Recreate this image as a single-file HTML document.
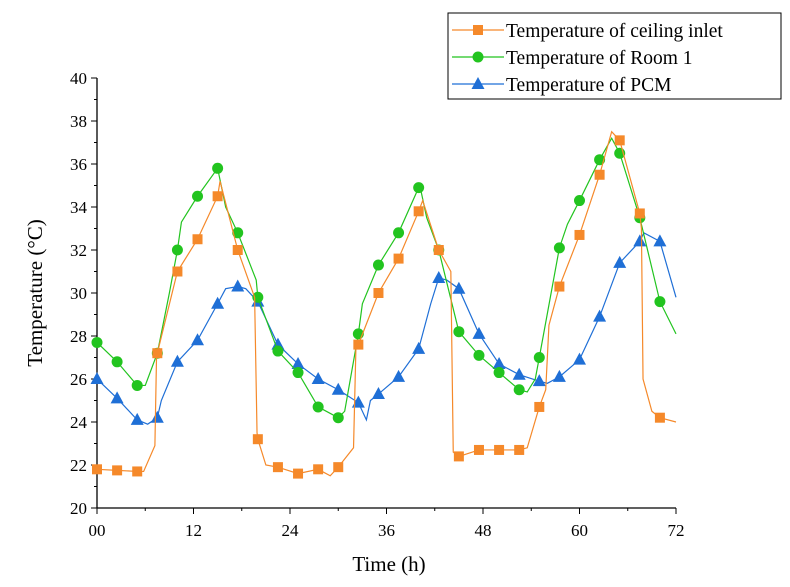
<!DOCTYPE html>
<html><head><meta charset="utf-8"><style>
body{margin:0;background:#fff;}
svg{display:block;font-family:"Liberation Serif",serif;}
</style></head><body>
<svg id="chart" width="790" height="587"></svg>
<script>
const xTicks=[0,12,24,36,48,60,72];
const xTickLabels=["00","12","24","36","48","60","72"];
const yTicks=[20,22,24,26,28,30,32,34,36,38,40];
const markerTimes=[0,2.5,5,7.5,10,12.5,15,17.5,20,22.5,25,27.5,30,32.5,35,37.5,40,42.5,45,47.5,50,52.5,55,57.5,60,62.5,65,67.5,70];
const inletMarkers=[21.8,21.75,21.7,27.2,31,32.5,34.5,32,23.2,21.9,21.6,21.8,21.9,27.6,30,31.6,33.8,32,22.4,22.7,22.7,22.7,24.7,30.3,32.7,35.5,37.1,33.7,24.2];
const roomMarkers=[27.7,26.8,25.7,27.2,32,34.5,35.8,32.8,29.8,27.3,26.3,24.7,24.2,28.1,31.3,32.8,34.9,32,28.2,27.1,26.3,25.5,27,32.1,34.3,36.2,36.5,33.5,29.6];
const pcmMarkers=[26,25.1,24.1,24.2,26.8,27.8,29.5,30.3,29.6,27.6,26.7,26,25.5,24.9,25.3,26.1,27.4,30.7,30.2,28.1,26.7,26.2,25.9,26.1,26.9,28.9,31.4,32.4,32.4];
const inletExtraT=[5.8,7.2,7.4,15.3,19.6,19.9,21,29,31.9,32.2,40.5,44,44.3,53.5,55.8,56.2,64,67.7,67.9,69,72];
const inletExtraV=[21.7,22.9,27.0,35.2,29.8,23.5,22,21.5,22.8,27.5,34.3,31,22.6,22.8,25.5,28.5,37.5,33,26,24.5,24];
const roomExtraT=[6,9,10.5,16,19.8,30.8,33,40.2,41,53.5,54.5,58.5,64,72];
const roomExtraV=[25.7,30,33.3,34,30.6,24.5,29.5,34.9,33.5,25.4,26,33.2,37.2,28.1];
const pcmExtraT=[6.3,8,16,18.5,33.5,34,41.5,43.5,56,68,72];
const pcmExtraV=[23.9,25,30.2,30.2,24.1,25,29.5,30.6,25.8,32.8,29.8];

const X0=97,X1=676,Y0=508,Y1=78;
const sx=t=>X0+(t-0)/72*(X1-X0);
const sy=v=>Y0-(v-20)/20*(Y0-Y1);
const svg=document.getElementById('chart');
const NS='http://www.w3.org/2000/svg';
function mk(tag,attrs,parent){const e=document.createElementNS(NS,tag);for(const k in attrs)e.setAttribute(k,attrs[k]);(parent||svg).appendChild(e);return e;}

// axes
let ax=mk('line',{x1:X0,y1:Y0,x2:X1,y2:Y0,stroke:'#000','stroke-width':1.3});


let ay=mk('line',{x1:X0,y1:Y0,x2:X0,y2:Y1,stroke:'#000','stroke-width':1.3});


for(let v=20;v<=40;v+=1){const maj=(v%2===0);mk('line',{x1:X0,y1:sy(v),x2:X0-(maj?6:3),y2:sy(v),stroke:'#000','stroke-width':1});}
for(let t=0;t<=72;t+=6){const maj=(t%12===0);mk('line',{x1:sx(t),y1:Y0,x2:sx(t),y2:Y0+(maj?6:3),stroke:'#000','stroke-width':1});}
yTicks.forEach(v=>{const t=mk('text',{x:X0-10,y:sy(v)+6,'text-anchor':'end','font-size':17});t.textContent=v;

});
xTicks.forEach((v,i)=>{const t=mk('text',{x:sx(v),y:Y0+28,'text-anchor':'middle','font-size':17});t.textContent=xTickLabels[i];

});
let xt=mk('text',{x:389,y:571,'text-anchor':'middle','font-size':21});xt.textContent='Time (h)';


let yt=mk('text',{x:0,y:0,'text-anchor':'middle','font-size':21,transform:'translate(42,293) rotate(-90)'});yt.textContent='Temperature (°C)';



function series(mT,mV,eT,eV,color,shape,name){
  const pts=mT.map((t,i)=>[t,mV[i]]).concat(eT.map((t,i)=>[t,eV[i]])).sort((a,b)=>a[0]-b[0]);
  const g=mk('g',{});
  
  
  const p=mk('polyline',{points:pts.map(p=>sx(p[0])+','+sy(p[1])).join(' '),fill:'none',stroke:color,'stroke-width':1.2},g);
  
  
  mT.forEach((t,i)=>{drawMarker(g,sx(t),sy(mV[i]),color,shape,name);});
}
function drawMarker(g,x,y,color,shape,name){
  let m;
  if(shape==='square')m=mk('rect',{x:x-5,y:y-5,width:10,height:10,fill:color},g);
  else if(shape==='circle')m=mk('circle',{cx:x,cy:y,r:5.5,fill:color},g);
  else m=mk('polygon',{points:`${x},${y-7} ${x-6.5},${y+5} ${x+6.5},${y+5}`,fill:color},g);
  
  
}
series(markerTimes,pcmMarkers,pcmExtraT,pcmExtraV,'#1f6fd6','tri','pcm-series');
series(markerTimes,roomMarkers,roomExtraT,roomExtraV,'#22c41f','circle','room1-series');
series(markerTimes,inletMarkers,inletExtraT,inletExtraV,'#f5892a','square','ceiling-inlet-series');

// legend
const lg=mk('g',{});


mk('rect',{x:448,y:13,width:333,height:86,fill:'#fff',stroke:'#000','stroke-width':1},lg);
const legItems=[['Temperature of ceiling inlet','#f5892a','square',30],['Temperature of Room 1','#22c41f','circle',57],['Temperature of PCM','#1f6fd6','tri',84]];
legItems.forEach(it=>{
  const e=mk('g',{},lg);
  
  
  mk('line',{x1:452,y1:it[3],x2:504,y2:it[3],stroke:it[1],'stroke-width':1.2},e);
  drawMarker(e,478,it[3],it[1],it[2],'legend');
  const t=mk('text',{x:506,y:it[3]+7,'font-size':19.5},e);t.textContent=it[0];
});
</script>
</body></html>
